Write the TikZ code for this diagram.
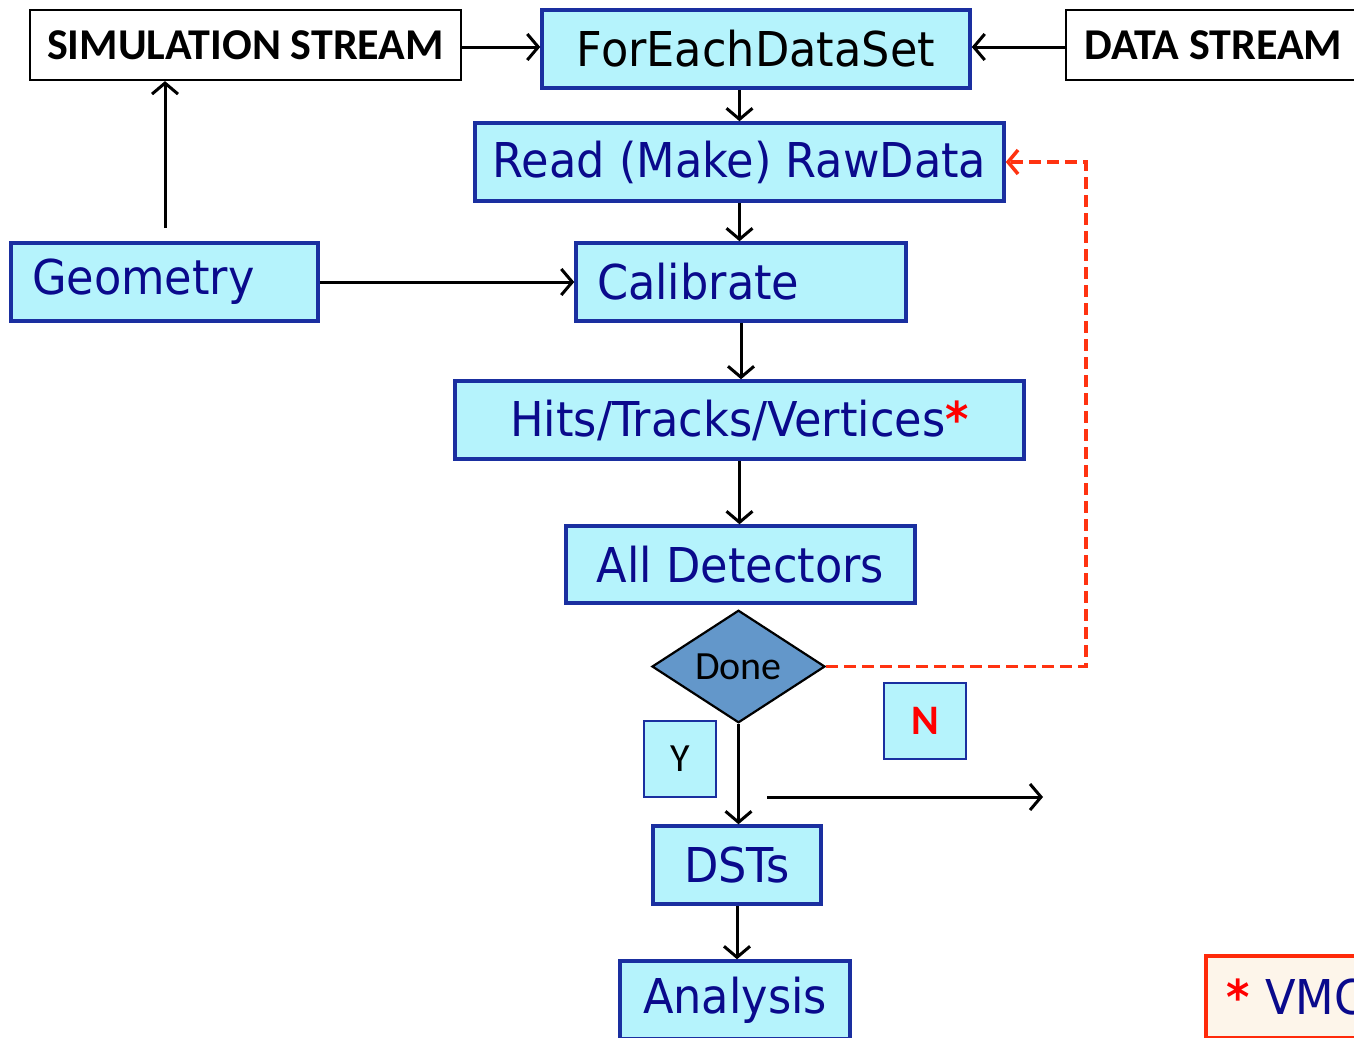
\documentclass[tikz,border=0pt]{standalone}
\usepackage{fontspec}
\usetikzlibrary{arrows.meta,shapes.geometric}
\newfontfamily\comicfont[FakeStretch=0.93]{DejaVu Sans}
\newfontfamily\labelfont{Carlito}

\definecolor{boxfill}{HTML}{B5F3FC}
\definecolor{boxtop}{HTML}{EAFCFE}
\definecolor{boxborder}{HTML}{1A2FA0}
\definecolor{navy}{HTML}{0A0A8C}
\definecolor{donefill}{HTML}{6397CA}
\definecolor{loopred}{HTML}{FF3311}
\definecolor{notefill}{HTML}{FDF5EA}
\definecolor{noteborder}{HTML}{FF2A0A}

\pgfdeclareverticalshading{cyanbox}{100bp}{color(0bp)=(boxfill); color(80bp)=(boxfill); color(100bp)=(boxtop)}

\begin{document}
\begin{tikzpicture}[x=1pt,y=-1pt,
  stepbox/.style={rectangle, draw=boxborder, line width=3.5pt, shading=cyanbox,
    inner sep=0pt, text=navy, font=\comicfont\fontsize{48}{56}\selectfont},
  leftbox/.style={stepbox, align=left, inner xsep=21pt},
  streambox/.style={rectangle, draw=black, line width=2.2pt, fill=white,
    inner sep=0pt, font=\labelfont\bfseries\fontsize{44}{50}\selectfont},
  tagbox/.style={rectangle, draw=boxborder, line width=2.2pt, fill=boxfill,
    inner sep=0pt, font=\labelfont\fontsize{40}{46}\selectfont},
  conn/.style={line width=3pt, -{Straight Barb[length=11pt,width=26pt,line width=3pt]}},
  loopconn/.style={line width=3.5pt, loopred, dash pattern=on 12pt off 6pt,
    -{Straight Barb[length=10pt,width=24pt,line width=3.5pt]}}
]
\useasboundingbox (0,0) rectangle (1354,1037);
\clip (0,0) rectangle (1354,1037);

% input streams and the dataset loop
\node[streambox, minimum width=431pt, minimum height=70pt] (sim) at (245.5,45) {SIMULATION STREAM};
\node[stepbox, text=black, minimum width=428pt, minimum height=78pt] (fe) at (756,49) {ForEachDataSet};
\node[streambox, minimum width=295pt, minimum height=70pt] (data) at (1213.5,45) {DATA STREAM};

% processing chain
\node[stepbox, minimum width=529pt, minimum height=78pt] (raw) at (739.5,162) {Read (Make) RawData};
\node[leftbox, text width=265pt, minimum height=78pt] (geo) at (164.5,282) {Geometry};
\node[leftbox, text width=288pt, minimum height=78pt] (cal) at (741,282) {Calibrate};
\node[stepbox, minimum width=569pt, minimum height=78pt] (hits) at (739.5,420) {Hits/Tracks/Vertices\textcolor{red}{\bfseries*}};
\node[stepbox, minimum width=349pt, minimum height=77pt] (alld) at (740.5,564.5) {All Detectors};

% decision
\node[diamond, draw=black, line width=2.2pt, fill=donefill, inner sep=0pt,
  minimum width=173pt, minimum height=105pt,
  font=\labelfont\fontsize{40}{46}\selectfont] (done) at (738.5,666.5) {Done};
\node[tagbox, minimum width=72pt, minimum height=76pt] (ytag) at (680,759) {Y};
\node[tagbox, minimum width=82pt, minimum height=76pt, text=red,
  font=\labelfont\bfseries\fontsize{42}{48}\selectfont] (ntag) at (925,721) {N};

% outputs
\node[stepbox, minimum width=168pt, minimum height=78pt] (dst) at (737,865) {DSTs};
\node[stepbox, minimum width=230pt, minimum height=78pt] (ana) at (735,1000) {Analysis};

% footnote box
\node[rectangle, draw=noteborder, line width=4pt, fill=notefill, inner sep=0pt,
  text width=360pt, inner xsep=20pt, align=left, minimum height=82pt,
  text=navy, font=\comicfont\fontsize{48}{56}\selectfont] (note) at (1406,997)
  {\textcolor{red}{\bfseries*} VMC};

% connectors
\draw[conn] (sim.east |- 0,47) -- (fe.west |- 0,47);
\draw[conn] (data.west |- 0,47) -- (fe.east |- 0,47);
\draw[conn] (raw.north |- fe.south) -- (raw.north);
\draw[conn] (raw.south) -- (raw.south |- cal.north);
\draw[conn] (geo.east) -- (cal.west);
\coordinate (geoup) at (165,228);
\draw[conn] (geoup) -- (geoup |- sim.south);
\draw[conn] (cal.south) -- (cal.south |- hits.north);
\draw[conn] (hits.south) -- (hits.south |- alld.north);
\draw[conn] (done.south) -- (done.south |- dst.north);
\draw[conn] (dst.south) -- (dst.south |- ana.north);
\coordinate (ystart) at (767,797);
\coordinate (yend) at (1043,797);
\draw[conn] (ystart) -- (yend);
\draw[loopconn] (done.east) -- ++(260,0) |- (raw.east);
\end{tikzpicture}
\end{document}
